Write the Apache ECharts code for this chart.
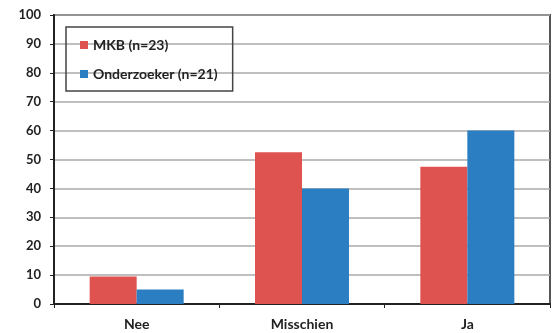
<!DOCTYPE html>
<html><head><meta charset="utf-8">
<script src="https://cdn.jsdelivr.net/npm/echarts@6/dist/echarts.min.js"></script>
<style>html,body{margin:0;padding:0;background:#fff}#c{width:558px;height:333px}</style>
</head><body><div id="c"></div>
<script>
const categories = ['Nee', 'Misschien', 'Ja'];
const mkbValues = [9.5, 52.5, 47.5];
const onderzoekerValues = [5, 40, 60];
const seriesNames = ['MKB (n=23)', 'Onderzoeker (n=21)'];

const chart = echarts.init(document.getElementById('c'));
chart.setOption({
  animation: false,
  backgroundColor: '#fff',
  textStyle: { fontFamily: 'Lato' },
  grid: { left: 54, right: 8, top: 15, bottom: 29, show: true, borderColor: '#555', borderWidth: 2, backgroundColor: 'transparent' },
  legend: {
    left: 66, top: 27, orient: 'vertical', itemGap: 15,
    padding: [11, 15, 10, 14],
    borderColor: '#444', borderWidth: 1.5,
    itemWidth: 8, itemHeight: 8, icon: 'rect',
    textStyle: { fontWeight: 'bold', fontSize: 14, color: '#222', fontFamily: 'Lato' },
    data: seriesNames
  },
  xAxis: {
    type: 'category', data: categories,
    axisLine: { lineStyle: { color: '#222', width: 2 } },
    axisTick: { show: true, alignWithLabel: false, length: 4, inside: false, lineStyle: { color: '#222' } },
    axisLabel: { fontWeight: 'bold', fontSize: 14, color: '#222', margin: 13 }
  },
  yAxis: {
    type: 'value', min: 0, max: 100, interval: 10,
    axisLine: { show: true, lineStyle: { color: '#222', width: 2 } },
    axisTick: { show: true, length: 4, lineStyle: { color: '#222' } },
    axisLabel: { fontWeight: 'bold', fontSize: 13, color: '#222', margin: 13 },
    splitLine: { lineStyle: { color: '#aaa', width: 1.5 } }
  },
  series: [
    { name: seriesNames[0], type: 'bar', data: mkbValues, barWidth: 47, barGap: '0%', itemStyle: { color: '#DE5350' } },
    { name: seriesNames[1], type: 'bar', data: onderzoekerValues, barWidth: 47, barGap: '0%', itemStyle: { color: '#2B7EC1' } }
  ]
});
</script></body></html>
